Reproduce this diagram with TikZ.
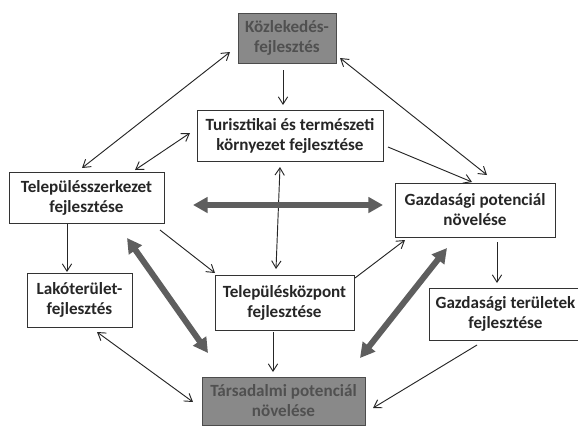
\documentclass[tikz,border=0pt]{standalone}
\usepackage{fontspec}
\setmainfont{Carlito}
\usetikzlibrary{arrows.meta}
\definecolor{boxgrey}{HTML}{898989}
\definecolor{boxtext}{HTML}{505050}
\definecolor{bigarrow}{HTML}{5E5E5E}
\tikzset{
  box/.style={draw=black!80, line width=0.7pt, fill=white, inner sep=0pt, align=center,
    font=\fontsize{14.6}{17}\selectfont\bfseries, text=black!85},
  greybox/.style={box, fill=boxgrey, draw=black!70, text=boxtext},
  link/.style={line width=0.8pt, draw=black!85, -{Straight Barb[length=2.2mm,width=2.8mm]}},
  dlink/.style={link, {Straight Barb[length=2.2mm,width=2.8mm]}-{Straight Barb[length=2.2mm,width=2.8mm]}},
  biglink/.style={line width=1.8mm, draw=bigarrow, {Triangle[length=4.4mm,width=4.6mm]}-{Triangle[length=4.4mm,width=4.6mm]}}
}
\begin{document}
\begin{tikzpicture}[x=0.3mm, y=-0.3mm]
\useasboundingbox (0,0) rectangle (578,430);
\node[greybox, minimum width=98*0.3mm, minimum height=50*0.3mm](kozl) at (287, 38) {Közlekedés-\\fejlesztés};
\node[box, minimum width=186*0.3mm, minimum height=51*0.3mm](turiszt) at (290, 135.5) {Turisztikai és természeti\\környezet fejlesztése};
\node[box, minimum width=155*0.3mm, minimum height=51*0.3mm](telszerk) at (86.5, 197.5) {Településszerkezet\\fejlesztése};
\node[box, minimum width=160*0.3mm, minimum height=54*0.3mm](gazdpot) at (475, 210) {Gazdasági potenciál\\növelése};
\node[box, minimum width=105*0.3mm, minimum height=54*0.3mm](lako) at (79.5, 300) {Lakóterület-\\fejlesztés};
\node[box, minimum width=139*0.3mm, minimum height=55*0.3mm](telkozp) at (284.5, 302.5) {Településközpont\\fejlesztése};
\node[box, minimum width=153*0.3mm, minimum height=52*0.3mm](gazdter) at (505.5, 314) {Gazdasági területek\\fejlesztése};
\node[greybox, minimum width=163*0.3mm, minimum height=48*0.3mm](tars) at (283.5, 401) {Társadalmi potenciál\\növelése};
% thin connectors
\draw[dlink] ([shift={(-57,14)}]kozl.center) -- ([shift={(-4.5,-29.5)}]telszerk.center);
\draw[dlink] ([shift={(53,20)}]kozl.center) -- ([shift={(12,-35)}]gazdpot.center);
\draw[link] ([shift={(-4,32)}]kozl.center) -- ([shift={(-7,-30.5)}]turiszt.center);
\draw[dlink] ([shift={(-100,-2.5)}]turiszt.center) -- ([shift={(48.5,-27.5)}]telszerk.center);
\draw[link] ([shift={(98,11.5)}]turiszt.center) -- ([shift={(-3,-28)}]gazdpot.center);
\draw[dlink] ([shift={(-10,31.5)}]turiszt.center) -- ([shift={(-8.5,-33.5)}]telkozp.center);
\draw[link] ([shift={(-19.5,26.5)}]telszerk.center) -- ([shift={(-12.5,-28)}]lako.center);
\draw[link] ([shift={(73.5,32.5)}]telszerk.center) -- ([shift={(-69.5,-29.5)}]telkozp.center);
\draw[link] ([shift={(70.5,-24.5)}]telkozp.center) -- ([shift={(-70,30)}]gazdpot.center);
\draw[link] ([shift={(22,32)}]gazdpot.center) -- ([shift={(-8.5,-31)}]gazdter.center);
\draw[link] ([shift={(-11.5,29.5)}]telkozp.center) -- ([shift={(-10.5,-29)}]tars.center);
\draw[dlink] ([shift={(17.5,32)}]lako.center) -- ([shift={(-90.5,1)}]tars.center);
\draw[link] ([shift={(-28.5,31)}]gazdter.center) -- ([shift={(89.5,7)}]tars.center);
% thick grey connectors
\draw[biglink] ([shift={(106.5,7.5)}]telszerk.center) -- ([shift={(-92,-5)}]gazdpot.center);
\draw[biglink] ([shift={(40.5,40.5)}]telszerk.center) -- ([shift={(-75.5,-48)}]tars.center);
\draw[biglink] ([shift={(-28,38)}]gazdpot.center) -- ([shift={(76.5,-43)}]tars.center);
\end{tikzpicture}
\end{document}
